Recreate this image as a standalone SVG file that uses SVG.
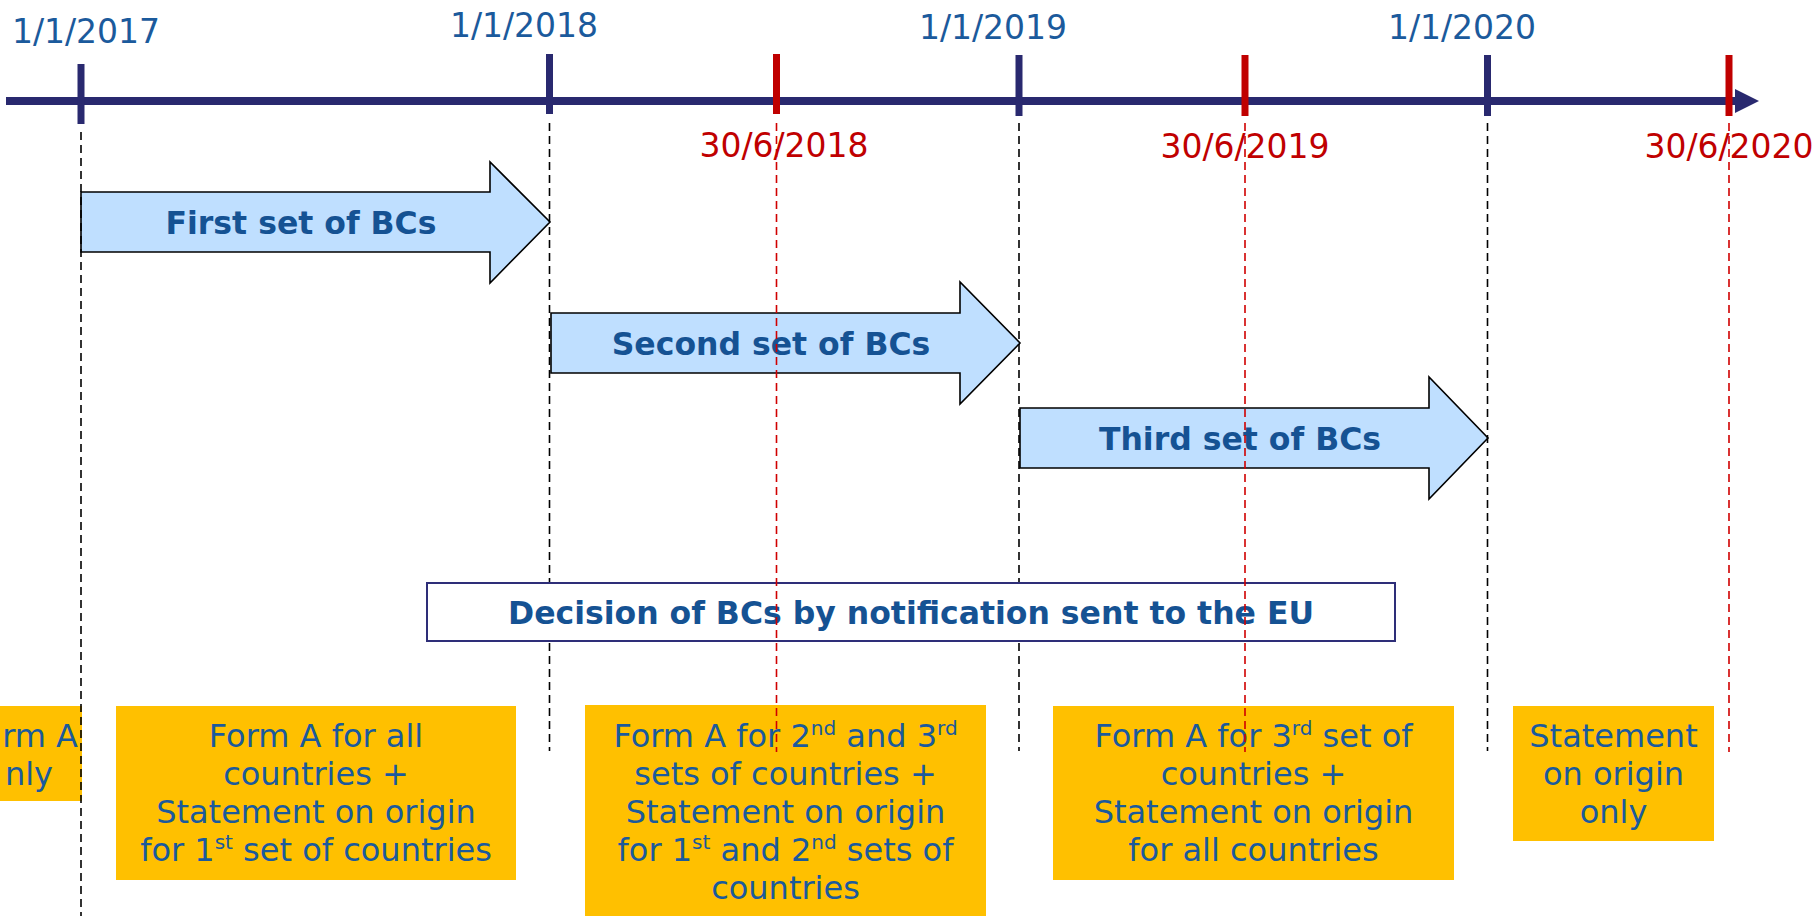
<svg xmlns="http://www.w3.org/2000/svg" width="1817" height="916" viewBox="0 0 1817 916">
<style>
.date{font-family:"DejaVu Sans",Verdana,sans-serif;font-size:33px;text-anchor:middle}
.blue{fill:#1B5A9C}
.red{fill:#C00000}
.bold{font-family:"DejaVu Sans",Verdana,sans-serif;font-size:31.5px;font-weight:bold;fill:#155293;text-anchor:middle}
.box{fill:#FFC000}
.bt{font-family:"DejaVu Sans",Verdana,sans-serif;font-size:32px;fill:#1B5A9C;text-anchor:middle}
.arrow{fill:#BFDFFF;stroke:#000;stroke-width:1.6}
.dk{stroke:#000;stroke-width:1.6;stroke-dasharray:8,5;fill:none}
.dr{stroke:#D00000;stroke-width:1.6;stroke-dasharray:8,5;fill:none}
.tb{stroke:#29296F;stroke-width:7}
.tr{stroke:#C00000;stroke-width:7}
</style>

<g id="timeline">
<line x1="6" y1="101" x2="1738" y2="101" stroke="#29296F" stroke-width="8"/>
<polygon points="1735,89 1759,101 1735,113" fill="#29296F"/>
<line class="tb" x1="81" y1="64" x2="81" y2="124"/>
<line class="tb" x1="549.5" y1="54" x2="549.5" y2="114"/>
<line class="tr" x1="776.5" y1="54" x2="776.5" y2="114"/>
<line class="tb" x1="1019" y1="55" x2="1019" y2="116"/>
<line class="tr" x1="1245" y1="55" x2="1245" y2="116"/>
<line class="tb" x1="1487.5" y1="55" x2="1487.5" y2="116"/>
<line class="tr" x1="1729" y1="55" x2="1729" y2="116"/>
<text class="date blue" x="86" y="43">1/1/2017</text>
<text class="date blue" x="524" y="37">1/1/2018</text>
<text class="date blue" x="993" y="39">1/1/2019</text>
<text class="date blue" x="1462" y="39">1/1/2020</text>
<text class="date red" x="784" y="157">30/6/2018</text>
<text class="date red" x="1245" y="158">30/6/2019</text>
<text class="date red" x="1729" y="158">30/6/2020</text>
</g>

<g id="arrow1">
<path class="arrow" d="M81,192 H490 V162 L550,222 L490,283 V252 H81 Z"/>
<text class="bold" x="301" y="234">First set of BCs</text>
</g>
<g id="arrow2">
<path class="arrow" d="M551,313 H960 V282 L1020,343 L960,404 V373 H551 Z"/>
<text class="bold" x="771" y="355">Second set of BCs</text>
</g>
<g id="arrow3">
<path class="arrow" d="M1020,408 H1429 V377 L1488,438 L1429,499 V468 H1020 Z"/>
<text class="bold" x="1240" y="450">Third set of BCs</text>
</g>

<g id="box1">
<rect class="box" x="0" y="706" width="82" height="95"/>
<text class="bt" x="78" y="747" text-anchor="end" style="text-anchor:end">rm A</text>
<text class="bt" x="53" y="785" text-anchor="end" style="text-anchor:end">nly</text>
</g>
<g id="box2">
<rect class="box" x="116" y="706" width="400" height="174"/>
<text class="bt" x="316" y="747">Form A for all</text>
<text class="bt" x="316" y="785">countries +</text>
<text class="bt" x="316" y="823">Statement on origin</text>
<text class="bt" x="316" y="861">for 1<tspan font-size="20" dy="-12">st</tspan><tspan dy="12"> set of countries</tspan></text>
</g>
<g id="box3">
<rect class="box" x="585" y="705" width="401" height="211"/>
<text class="bt" x="785.5" y="747">Form A for 2<tspan font-size="20" dy="-12">nd</tspan><tspan dy="12"> and 3</tspan><tspan font-size="20" dy="-12">rd</tspan></text>
<text class="bt" x="785.5" y="785">sets of countries +</text>
<text class="bt" x="785.5" y="823">Statement on origin</text>
<text class="bt" x="785.5" y="861">for 1<tspan font-size="20" dy="-12">st</tspan><tspan dy="12"> and 2</tspan><tspan font-size="20" dy="-12">nd</tspan><tspan dy="12"> sets of</tspan></text>
<text class="bt" x="785.5" y="899">countries</text>
</g>
<g id="box4">
<rect class="box" x="1053" y="706" width="401" height="174"/>
<text class="bt" x="1253.5" y="747">Form A for 3<tspan font-size="20" dy="-12">rd</tspan><tspan dy="12"> set of</tspan></text>
<text class="bt" x="1253.5" y="785">countries +</text>
<text class="bt" x="1253.5" y="823">Statement on origin</text>
<text class="bt" x="1253.5" y="861">for all countries</text>
</g>
<g id="box5">
<rect class="box" x="1513" y="706" width="201" height="135"/>
<text class="bt" x="1613.5" y="747">Statement</text>
<text class="bt" x="1613.5" y="785">on origin</text>
<text class="bt" x="1613.5" y="823">only</text>
</g>

<g id="connectors-black">
<line class="dk" x1="81" y1="132" x2="81" y2="916"/>
<line class="dk" x1="549.5" y1="123" x2="549.5" y2="751"/>
<line class="dk" x1="1019" y1="123" x2="1019" y2="751"/>
<line class="dk" x1="1487.5" y1="123" x2="1487.5" y2="751"/>
</g>

<g id="decision">
<rect x="427" y="583" width="968" height="58" fill="#FFFFFF" stroke="#2E2E78" stroke-width="2"/>
<text class="bold" x="911" y="624">Decision of BCs by notification sent to the EU</text>
</g>

<g id="connectors-red">
<line class="dr" x1="776.5" y1="123" x2="776.5" y2="752"/>
<line class="dr" x1="1245" y1="123" x2="1245" y2="752"/>
<line class="dr" x1="1729" y1="123" x2="1729" y2="752"/>
</g>
</svg>
